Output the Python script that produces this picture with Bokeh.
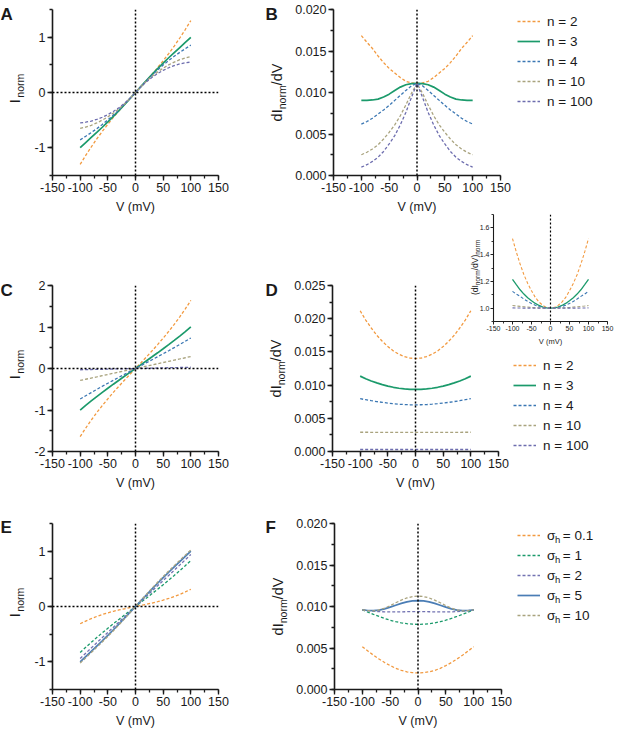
import numpy as np
from bokeh.plotting import figure
from bokeh.models import (Range1d, FixedTicker, NumeralTickFormatter, Span, Label,
                          Legend, LegendItem)
from bokeh.embed import file_html
from bokeh.resources import INLINE

FONT = "Liberation Sans"
INK = "#1a1a1a"

# ---------------- data ----------------
V = [-100, -90, -80, -70, -60, -50, -40, -30, -20, -10, 0, 10, 20, 30, 40, 50, 60, 70, 80, 90, 100]

n_labels = ["n = 2", "n = 3", "n = 4", "n = 10", "n = 100"]
sig_values = ["0.1", "1", "2", "5", "10"]

A_n2 = [-1.300, -1.138, -0.985, -0.839, -0.703, -0.574, -0.450, -0.332, -0.219, -0.109, 0.0, 0.109, 0.219, 0.332, 0.450, 0.574, 0.703, 0.839, 0.985, 1.138, 1.300]
A_n3 = [-0.995, -0.904, -0.813, -0.722, -0.628, -0.532, -0.432, -0.328, -0.221, -0.111, 0.0, 0.111, 0.221, 0.328, 0.432, 0.532, 0.628, 0.722, 0.813, 0.904, 0.995]
A_n4 = [-0.856, -0.792, -0.725, -0.654, -0.577, -0.495, -0.408, -0.314, -0.215, -0.110, 0.0, 0.110, 0.215, 0.314, 0.408, 0.495, 0.577, 0.654, 0.725, 0.792, 0.856]
A_n10 = [-0.650, -0.625, -0.593, -0.550, -0.499, -0.440, -0.372, -0.295, -0.207, -0.108, 0.0, 0.108, 0.207, 0.295, 0.372, 0.440, 0.499, 0.550, 0.593, 0.625, 0.650]
A_n100 = [-0.550, -0.537, -0.516, -0.486, -0.447, -0.400, -0.343, -0.275, -0.196, -0.104, 0.0, 0.104, 0.196, 0.275, 0.343, 0.400, 0.447, 0.486, 0.516, 0.537, 0.550]

B_n2 = [0.01685, 0.01605, 0.01530, 0.01440, 0.01360, 0.01290, 0.01235, 0.01180, 0.01135, 0.01115, 0.01110, 0.01115, 0.01135, 0.01180, 0.01235, 0.01290, 0.01360, 0.01440, 0.01530, 0.01605, 0.01685]
B_n3 = [0.00906, 0.00906, 0.00910, 0.00920, 0.00945, 0.00980, 0.01025, 0.01065, 0.01093, 0.01107, 0.01110, 0.01107, 0.01093, 0.01065, 0.01025, 0.00980, 0.00945, 0.00920, 0.00910, 0.00906, 0.00906]
B_n4 = [0.00620, 0.00650, 0.00690, 0.00740, 0.00790, 0.00845, 0.00905, 0.00965, 0.01025, 0.01080, 0.01110, 0.01080, 0.01025, 0.00965, 0.00905, 0.00845, 0.00790, 0.00740, 0.00690, 0.00650, 0.00620]
B_n10 = [0.00250, 0.00280, 0.00320, 0.00370, 0.00440, 0.00520, 0.00610, 0.00720, 0.00850, 0.00990, 0.01110, 0.00990, 0.00850, 0.00720, 0.00610, 0.00520, 0.00440, 0.00370, 0.00320, 0.00280, 0.00250]
B_n100 = [0.00100, 0.00130, 0.00170, 0.00220, 0.00290, 0.00380, 0.00480, 0.00610, 0.00760, 0.00940, 0.01110, 0.00940, 0.00760, 0.00610, 0.00480, 0.00380, 0.00290, 0.00220, 0.00170, 0.00130, 0.00100]

C_n2 = [-1.641, -1.436, -1.244, -1.063, -0.893, -0.731, -0.576, -0.427, -0.282, -0.140, 0.0, 0.140, 0.282, 0.427, 0.576, 0.731, 0.893, 1.063, 1.244, 1.436, 1.641]
C_n3 = [-1.002, -0.890, -0.782, -0.678, -0.576, -0.476, -0.378, -0.282, -0.188, -0.094, 0.0, 0.094, 0.188, 0.282, 0.378, 0.476, 0.576, 0.678, 0.782, 0.890, 1.002]
C_n4 = [-0.736, -0.657, -0.580, -0.504, -0.429, -0.356, -0.283, -0.212, -0.141, -0.070, 0.0, 0.070, 0.141, 0.212, 0.283, 0.356, 0.429, 0.504, 0.580, 0.657, 0.736]
C_n10 = [-0.288, -0.259, -0.230, -0.202, -0.173, -0.144, -0.115, -0.086, -0.058, -0.029, 0.0, 0.029, 0.058, 0.086, 0.115, 0.144, 0.173, 0.202, 0.230, 0.259, 0.288]
C_n100 = [-0.030, -0.027, -0.024, -0.021, -0.018, -0.015, -0.012, -0.009, -0.006, -0.003, 0.0, 0.003, 0.006, 0.009, 0.012, 0.015, 0.018, 0.021, 0.024, 0.027, 0.030]

D_n2 = [0.02120, 0.01980, 0.01860, 0.01750, 0.01660, 0.01580, 0.01515, 0.01465, 0.01430, 0.01407, 0.01400, 0.01407, 0.01430, 0.01465, 0.01515, 0.01580, 0.01660, 0.01750, 0.01860, 0.01980, 0.02120]
D_n3 = [0.01135, 0.01097, 0.01062, 0.01033, 0.01007, 0.00985, 0.00967, 0.00953, 0.00943, 0.00937, 0.00935, 0.00937, 0.00943, 0.00953, 0.00967, 0.00985, 0.01007, 0.01033, 0.01062, 0.01097, 0.01135]
D_n4 = [0.00795, 0.00780, 0.00765, 0.00752, 0.00740, 0.00729, 0.00720, 0.00712, 0.00707, 0.00704, 0.00703, 0.00704, 0.00707, 0.00712, 0.00720, 0.00729, 0.00740, 0.00752, 0.00765, 0.00780, 0.00795]
D_n10 = [0.00290, 0.00290, 0.00289, 0.00289, 0.00288, 0.00288, 0.00288, 0.00288, 0.00288, 0.00288, 0.00288, 0.00288, 0.00288, 0.00288, 0.00288, 0.00288, 0.00288, 0.00289, 0.00289, 0.00290, 0.00290]
D_n100 = [0.00030, 0.00030, 0.00030, 0.00030, 0.00030, 0.00030, 0.00030, 0.00030, 0.00030, 0.00030, 0.00030, 0.00030, 0.00030, 0.00030, 0.00030, 0.00030, 0.00030, 0.00030, 0.00030, 0.00030, 0.00030]

IN_n2 = [1.520, 1.420, 1.330, 1.250, 1.185, 1.130, 1.080, 1.045, 1.020, 1.005, 1.000, 1.005, 1.020, 1.045, 1.080, 1.130, 1.185, 1.250, 1.330, 1.420, 1.520]
IN_n3 = [1.215, 1.175, 1.137, 1.105, 1.078, 1.055, 1.035, 1.020, 1.008, 1.002, 1.000, 1.002, 1.008, 1.020, 1.035, 1.055, 1.078, 1.105, 1.137, 1.175, 1.215]
IN_n4 = [1.125, 1.105, 1.088, 1.068, 1.050, 1.035, 1.022, 1.012, 1.005, 1.001, 1.000, 1.001, 1.005, 1.012, 1.022, 1.035, 1.050, 1.068, 1.088, 1.105, 1.125]
IN_n10 = [1.020, 1.016, 1.013, 1.010, 1.008, 1.005, 1.003, 1.002, 1.001, 1.000, 1.000, 1.000, 1.001, 1.002, 1.003, 1.005, 1.008, 1.010, 1.013, 1.016, 1.020]
IN_n100 = [1.002, 1.001, 1.001, 1.000, 1.000, 1.000, 1.000, 1.000, 1.000, 1.000, 1.000, 1.000, 1.000, 1.000, 1.000, 1.000, 1.000, 1.000, 1.001, 1.001, 1.002]

E_s01 = [-0.312, -0.263, -0.219, -0.180, -0.145, -0.115, -0.087, -0.063, -0.041, -0.020, 0.0, 0.020, 0.041, 0.063, 0.087, 0.115, 0.145, 0.180, 0.219, 0.263, 0.312]
E_s1 = [-0.831, -0.738, -0.648, -0.561, -0.476, -0.393, -0.312, -0.233, -0.154, -0.077, 0.0, 0.077, 0.154, 0.233, 0.312, 0.393, 0.476, 0.561, 0.648, 0.738, 0.831]
E_s2 = [-0.940, -0.845, -0.750, -0.656, -0.562, -0.468, -0.375, -0.281, -0.188, -0.094, 0.0, 0.094, 0.188, 0.281, 0.375, 0.468, 0.562, 0.656, 0.750, 0.845, 0.940]
E_s5 = [-1.001, -0.906, -0.811, -0.715, -0.619, -0.521, -0.420, -0.318, -0.213, -0.107, 0.0, 0.107, 0.213, 0.318, 0.420, 0.521, 0.619, 0.715, 0.811, 0.906, 1.001]
E_s10 = [-1.023, -0.928, -0.833, -0.738, -0.641, -0.541, -0.439, -0.332, -0.223, -0.112, 0.0, 0.112, 0.223, 0.332, 0.439, 0.541, 0.641, 0.738, 0.833, 0.928, 1.023]

F_s01 = [0.00515, 0.00463, 0.00413, 0.00367, 0.00325, 0.00288, 0.00255, 0.00230, 0.00213, 0.00203, 0.00200, 0.00203, 0.00213, 0.00230, 0.00255, 0.00288, 0.00325, 0.00367, 0.00413, 0.00463, 0.00515]
F_s1 = [0.00960, 0.00932, 0.00905, 0.00880, 0.00856, 0.00835, 0.00817, 0.00803, 0.00793, 0.00787, 0.00785, 0.00787, 0.00793, 0.00803, 0.00817, 0.00835, 0.00856, 0.00880, 0.00905, 0.00932, 0.00960]
F_s2 = [0.00960, 0.00950, 0.00943, 0.00938, 0.00936, 0.00935, 0.00935, 0.00936, 0.00937, 0.00938, 0.00938, 0.00938, 0.00937, 0.00936, 0.00935, 0.00935, 0.00936, 0.00938, 0.00943, 0.00950, 0.00960]
F_s5 = [0.00960, 0.00952, 0.00950, 0.00957, 0.00972, 0.00992, 0.01015, 0.01037, 0.01055, 0.01067, 0.01070, 0.01067, 0.01055, 0.01037, 0.01015, 0.00992, 0.00972, 0.00957, 0.00950, 0.00952, 0.00960]
F_s10 = [0.00960, 0.00950, 0.00947, 0.00958, 0.00980, 0.01010, 0.01045, 0.01077, 0.01103, 0.01120, 0.01125, 0.01120, 0.01103, 0.01077, 0.01045, 0.01010, 0.00980, 0.00958, 0.00947, 0.00950, 0.00960]

# ticks and tick labels
X_TICKS = [-150, -100, -50, 0, 50, 100, 150]
X_TICK_LABELS = ["-150", "-100", "-50", "0", "50", "100", "150"]
X_MINOR = [-150, -125, -100, -75, -50, -25, 0, 25, 50, 75, 100, 125, 150]
I_TICKS = [-1, 0, 1]
I_TICK_LABELS = ["-1", "0", "1"]
I_MINOR = [-1.5, -1, -0.5, 0, 0.5, 1, 1.5]
C_TICKS = [-2, -1, 0, 1, 2]
C_TICK_LABELS = ["-2", "-1", "0", "1", "2"]
C_MINOR = [-2, -1.5, -1, -0.5, 0, 0.5, 1, 1.5, 2]
G_TICKS = [0.0, 0.005, 0.010, 0.015, 0.020]
G_MINOR = [0.0, 0.0025, 0.005, 0.0075, 0.010, 0.0125, 0.015, 0.0175, 0.020]
D_TICKS = [0.0, 0.005, 0.010, 0.015, 0.020, 0.025]
D_MINOR = [0.0, 0.0025, 0.005, 0.0075, 0.010, 0.0125, 0.015, 0.0175, 0.020, 0.0225, 0.025]
IN_TICKS = [1.0, 1.2, 1.4, 1.6]
IN_MINOR = [0.9, 1.0, 1.1, 1.2, 1.3, 1.4, 1.5, 1.6, 1.7]

ORANGE = "#F29A40"
GREEN = "#1B9A6B"
BLUE = "#3B77B3"
TAN = "#A9A37E"
PURPLE = "#6D6DAE"
BLUE5 = "#4A7DB5"
PURPLE2 = "#7373B2"

N_STYLES = [(ORANGE, "dashed"), (GREEN, "solid"), (BLUE, "dashed"), (TAN, "dashed"), (PURPLE, "dashed")]
S_STYLES = [(ORANGE, "dashed"), (GREEN, "dashed"), (PURPLE2, "dashed"), (BLUE5, "solid"), (TAN, "dashed")]

# ---------------- helpers ----------------
WID = {'I': .278, 'd': .556, 'n': .556, 'o': .556, 'r': .333, 'm': .833, '/': .278,
       'V': .667, '(': .333, ')': .333, ' ': .278}


def tw(s, size):
    return sum(WID[c] for c in s) * size


def make_fig(left, top, w, h, bl, br, bt, bb, xr, yr, transparent=False):
    p = figure(width=w, height=h, x_range=Range1d(*xr), y_range=Range1d(*yr),
               output_backend="svg", toolbar_location=None,
               min_border_left=bl, min_border_right=br, min_border_top=bt, min_border_bottom=bb,
               styles={"position": "absolute", "left": f"{left}px", "top": f"{top}px"})
    p.outline_line_color = None
    p.grid.visible = False
    if transparent:
        p.background_fill_alpha = 0
        p.border_fill_alpha = 0
    else:
        p.background_fill_color = "white"
        p.border_fill_color = "white"
    return p


def style_axes(p, yt, ym, yfmt=None, ylabels=None, size=12.5, lab_size=12.5, tick_out=5, minor_out=3,
               lw=1.6, standoff=2, lab_standoff=5):
    for ax in (p.xaxis[0], p.yaxis[0]):
        ax.axis_line_width = lw
        ax.axis_line_color = INK
        ax.major_tick_line_width = lw * 0.85
        ax.major_tick_line_color = INK
        ax.minor_tick_line_width = lw * 0.8
        ax.minor_tick_line_color = INK
        ax.major_tick_out = tick_out
        ax.major_tick_in = 0
        ax.minor_tick_out = minor_out
        ax.minor_tick_in = 0
        ax.major_label_text_font = FONT
        ax.major_label_text_font_size = f"{size}px"
        ax.major_label_text_color = INK
        ax.major_label_standoff = standoff
    p.xaxis[0].ticker = FixedTicker(ticks=X_TICKS, minor_ticks=X_MINOR)
    p.xaxis[0].major_label_overrides = dict(zip(X_TICKS, X_TICK_LABELS))
    p.yaxis[0].ticker = FixedTicker(ticks=yt, minor_ticks=ym)
    if yfmt:
        p.yaxis[0].formatter = NumeralTickFormatter(format=yfmt)
    if ylabels:
        p.yaxis[0].major_label_overrides = dict(zip(yt, ylabels))
    xa = p.xaxis[0]
    xa.axis_label = "V (mV)"
    xa.axis_label_text_font = FONT
    xa.axis_label_text_font_size = f"{lab_size}px"
    xa.axis_label_text_font_style = "normal"
    xa.axis_label_text_color = INK
    xa.axis_label_standoff = lab_standoff


def zero_lines(p, horizontal, lw=1.5):
    p.add_layout(Span(location=0, dimension="height", line_color="black", line_width=lw, line_dash="2 2"))
    if horizontal:
        p.add_layout(Span(location=0, dimension="width", line_color="black", line_width=lw, line_dash="2 2"))


def line_kw(col, dash, lw_dash=1.3, lw_solid=1.7):
    return dict(line_color=col, line_width=lw_solid if dash == "solid" else lw_dash,
                line_dash="solid" if dash == "solid" else "3 2")


def draw_lines(p, series, styles, lw_dash=1.3, lw_solid=1.7):
    for ys, (col, dash) in zip(series, styles):
        p.line(V, ys, **line_kw(col, dash, lw_dash, lw_solid))


# ---------------- panel A ----------------
pA = make_fig(0, 0, 240, 240, 52, 22, 9, 65, (-150, 150), (-1.5, 1.5))
style_axes(pA, I_TICKS, I_MINOR, ylabels=I_TICK_LABELS)
draw_lines(pA, [A_n2, A_n3, A_n4, A_n10, A_n100], N_STYLES)
zero_lines(pA, True)

# ---------------- panel B ----------------
pB = make_fig(240, 0, 272, 240, 93, 12, 9, 65, (-150, 150), (0, 0.020))
style_axes(pB, G_TICKS, G_MINOR, yfmt="0.000")
draw_lines(pB, [B_n2, B_n3, B_n4, B_n10, B_n100], N_STYLES)
zero_lines(pB, False)

# ---------------- panel C ----------------
pC = make_fig(0, 240, 240, 255, 52, 22, 45, 44, (-150, 150), (-2, 2))
style_axes(pC, C_TICKS, C_MINOR, ylabels=C_TICK_LABELS)
draw_lines(pC, [C_n2, C_n3, C_n4, C_n10, C_n100], N_STYLES)
zero_lines(pC, True)

# ---------------- panel D ----------------
pD = make_fig(240, 240, 272, 255, 92, 14, 45, 44, (-150, 150), (0, 0.025))
style_axes(pD, D_TICKS, D_MINOR, yfmt="0.000")
draw_lines(pD, [D_n2, D_n3, D_n4, D_n10, D_n100], N_STYLES)
zero_lines(pD, False)

# ---------------- panel E ----------------
pE = make_fig(0, 495, 240, 237, 52, 22, 28, 43, (-150, 150), (-1.5, 1.5))
style_axes(pE, I_TICKS, I_MINOR, ylabels=I_TICK_LABELS)
draw_lines(pE, [E_s01, E_s1, E_s2, E_s5, E_s10], S_STYLES)
zero_lines(pE, True)

# ---------------- panel F ----------------
pF = make_fig(240, 495, 272, 237, 94, 11, 28, 43, (-150, 150), (0, 0.020))
style_axes(pF, G_TICKS, G_MINOR, yfmt="0.000")
draw_lines(pF, [F_s01, F_s1, F_s2, F_s5, F_s10], S_STYLES)
zero_lines(pF, False)

# ---------------- inset (beside D) ----------------
pIn = make_fig(450, 200, 165, 150, 43, 8, 14, 29, (-150, 150), (0.9, 1.7), transparent=True)
style_axes(pIn, IN_TICKS, IN_MINOR, yfmt="0.0", size=7, lab_size=7.5, tick_out=3, minor_out=2,
           lw=1.1, standoff=1, lab_standoff=3)
draw_lines(pIn, [IN_n2, IN_n3, IN_n4, IN_n10, IN_n100], N_STYLES, lw_dash=1.1, lw_solid=1.3)
zero_lines(pIn, False, lw=1.2)

# ---------------- overlay: titles, letters and legend keys, in page pixels ----------------
PW, PH = 617, 732
ov = make_fig(0, 0, PW, PH, 0, 0, 0, 0, (0, PW), (PH, 0), transparent=True)
ov.below = []
ov.left = []


def ov_text(x, y, text, size, **kw):
    ov.add_layout(Label(x=x, y=y, text=text, text_font=FONT, text_font_size=f"{size}px",
                        text_color=INK, **kw))


def rot_label(x_main, y_center, parts, main_size, sub_size, sub_dx, gap=0.0):
    total = sum(tw(t, sub_size if s else main_size) for t, s in parts) + gap * (len(parts) - 1)
    y = y_center + total / 2
    for text, sub in parts:
        size = sub_size if sub else main_size
        ov_text(x_main + (sub_dx if sub else 0), y, text, size, angle=90, angle_units="deg",
                text_align="left", text_baseline="middle")
        y -= tw(text, size) + gap


def ov_legend(styles, labels, left, top):
    # legend keys only: each key renderer holds no visible point
    items = []
    for (col, dash), lab in zip(styles, labels):
        r = ov.line(x=np.array([np.nan]), y=np.array([np.nan]), **line_kw(col, dash))
        items.append(LegendItem(label=lab, renderers=[r]))
    ov.add_layout(Legend(items=items, location=(left, PH - (top + 96)), glyph_width=23,
                         glyph_height=16, label_height=16, spacing=4, padding=0, margin=0,
                         label_standoff=7, border_line_alpha=0, background_fill_alpha=0,
                         label_text_font=FONT, label_text_font_size="13.5px",
                         label_text_color=INK))


for lt, lx, ly in [("A", 0, 14), ("B", 265, 14), ("C", 0, 290), ("D", 265, 290), ("E", 0, 527), ("F", 265, 527)]:
    ov_text(lx, ly, lt, 17, text_align="left", text_baseline="alphabetic", text_font_style="bold")

I_PARTS = [("I", False), ("norm", True)]
G_PARTS = [("dI", False), ("norm", True), ("/dV", False)]
for yc in (88, 364, 602):
    rot_label(14, yc, I_PARTS, 14.5, 10.5, 5.5, gap=1.5)
for xm, yc in ((276, 92), (275, 368), (277, 606)):
    rot_label(xm, yc, G_PARTS, 14.5, 10.5, 5.5)
rot_label(474, 267, [("(dI", False), ("norm", True), ("/dV)", False), ("norm", True)], 8.5, 6.5, 3.2)

ov_legend(N_STYLES, n_labels, 517, 13)
ov_legend(N_STYLES, n_labels, 513, 357)
ov_legend(S_STYLES, ["\u03c3  = " + s for s in sig_values], 517, 527)
for i in range(5):
    ov_text(554.5, 535 + 20 * i + 4, "h", 9.5, text_align="left", text_baseline="middle")

roots = [pA, pB, pC, pD, pE, pF, pIn, ov]
open("out.html", "w").write(file_html(roots, INLINE, title="chart"))
